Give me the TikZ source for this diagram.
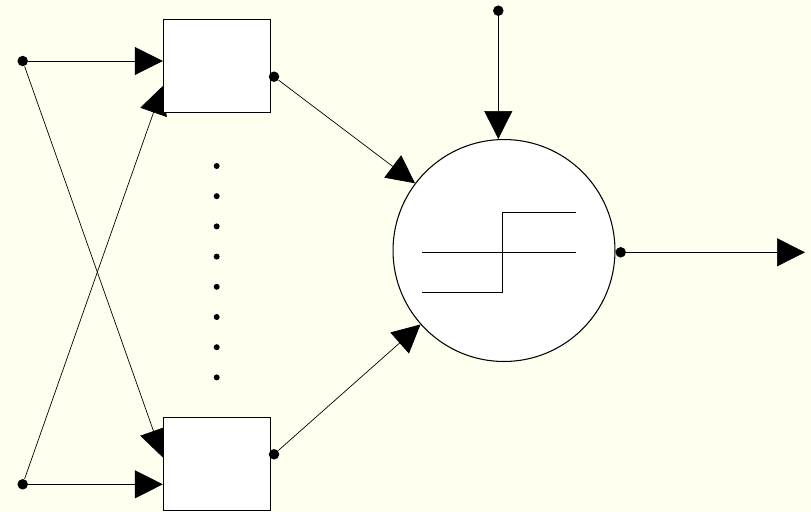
\documentclass[tikz,border=0pt]{standalone}
\usetikzlibrary{arrows.meta, calc}
\definecolor{paper}{RGB}{255,255,240}
\pgfdeclarelayer{behind}
\pgfsetlayers{behind,main}
\tikzset{
    netdiagram/.style={x=0.02cm, y=-0.02cm, line width=0.6pt, >={Triangle[length=0.56cm, width=0.56cm]}},
    wbox/.style={draw, fill=white, minimum width=2.134cm, minimum height=1.854cm, inner sep=0pt},
    neuron/.style={draw, fill=white, circle, minimum size=4.44cm, inner sep=0pt},
    terminal/.style={fill, circle, inner sep=0pt, minimum size=0.21cm},
    dot/.style={fill, circle, inner sep=0pt, minimum size=0.12cm},
}

\begin{document}
\begin{tikzpicture}[netdiagram]
    \useasboundingbox (0,0) rectangle (811,511);

    \node[wbox]     (w1)  at (216.7,66.3)  {};
    \node[wbox]     (w2)  at (216.7,464)   {};
    \node[neuron]   (sum) at (504,250.5)   {};

    \node[terminal] (x1)  at (22.7,61)     {};
    \node[terminal] (x2)  at (22.7,484.3)  {};
    \node[terminal] (y1)  at (274,76.7)    {};
    \node[terminal] (y2)  at (274,454.3)   {};
    \node[terminal] (th)  at (498.3,10.7)  {};
    \node[terminal] (out) at (620.7,252.3) {};
    \coordinate     (res) at (805,252.3);

    % the elided middle inputs
    \foreach \i in {0,...,7}
        \node[dot] (d\i) at (216.7,{166+30.2*\i}) {};

    % hard limiter
    \draw ($(sum)+(-81.7,1.8)$) -- ++(153.4,0);
    \draw ($(sum)+(-81.7,41.8)$) -- ++(80.4,0) -- ++(0,-80) -- ++(73,0);

    \begin{pgfonlayer}{behind}
        \fill[paper] (0,0) rectangle (811,511);

        \draw[->] (x1) -- (x1 -| w1.west);
        \draw[->] (x2) -- (x2 -| w2.west);
        \draw[->] (x1) -- ($(w2.north west)!0.43!(w2.south west)$);
        \draw[->] (x2) -- ($(w1.north west)!0.71!(w1.south west)$);

        \draw[->] (y1) -- (sum);
        \draw[->] (y2) -- (sum);
        \draw[->] (th) -- (th |- sum.north);
        \draw[->] (out) -- (res);
    \end{pgfonlayer}
\end{tikzpicture}
\end{document}
